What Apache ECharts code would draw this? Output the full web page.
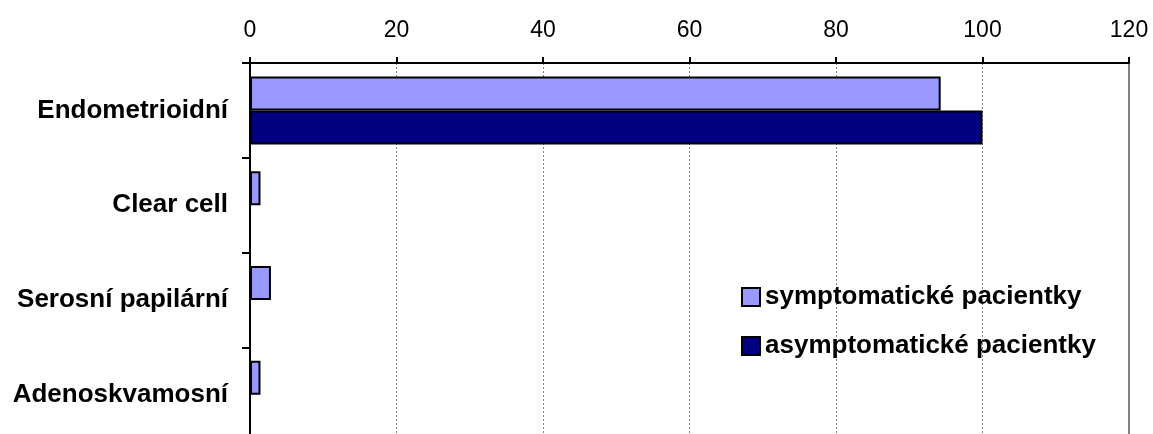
<!DOCTYPE html>
<html>
<head>
<meta charset="utf-8">
<script src="https://cdn.jsdelivr.net/npm/echarts@6/dist/echarts.min.js"></script>
<style>
  html, body { margin: 0; padding: 0; background: #fff; }
  #chart { width: 1153px; height: 434px; }
</style>
</head>
<body>
<div id="chart"></div>
<script>
// Histologic types of endometrial carcinoma (%), by patient group
const categories = ['Endometrioidní', 'Clear cell', 'Serosní papilární', 'Adenoskvamosní'];
const symptomatic = [94.29, 1.43, 2.86, 1.43];
const asymptomatic = [100, 0, 0, 0];
const seriesNames = ['symptomatické pacientky', 'asymptomatické pacientky'];
const xTicks = { min: 0, max: 120, interval: 20 };

const FONT = 'Liberation Sans, Arial, sans-serif';
const chart = echarts.init(document.getElementById('chart'), null, { renderer: 'canvas' });

chart.setOption({
  animation: false,
  backgroundColor: '#fff',
  // plot area runs slightly past the bottom edge of the canvas
  grid: { left: 250, right: 24, top: 63, height: 379, containLabel: false, outerBoundsMode: 'none' },
  legend: {
    orient: 'vertical',
    left: 741,
    top: 284,
    padding: 0,
    itemWidth: 18,
    itemHeight: 18,
    itemGap: 23,
    icon: 'rect',
    textStyle: { fontFamily: FONT, fontSize: 26, fontWeight: 'bold', color: '#000' },
    data: seriesNames
  },
  xAxis: {
    type: 'value',
    position: 'top',
    min: xTicks.min,
    max: xTicks.max,
    interval: xTicks.interval,
    axisLine: { show: true, lineStyle: { color: '#000', width: 2 } },
    axisTick: { show: true, length: 6, lineStyle: { color: '#000', width: 2 } },
    axisLabel: { fontFamily: FONT, fontSize: 23, color: '#000', margin: 21 },
    splitLine: { show: true, lineStyle: { color: '#808080', width: 1, type: [2, 2] } }
  },
  yAxis: [{
    type: 'category',
    data: categories,
    inverse: true,
    axisLine: { show: true, lineStyle: { color: '#000', width: 2 } },
    axisTick: { show: true, length: 8, lineStyle: { color: '#000', width: 2 } },
    axisLabel: { fontFamily: FONT, fontSize: 26, fontWeight: 'bold', color: '#000', margin: 22 },
    splitLine: { show: false }
  }, {
    type: 'category',
    data: categories,
    inverse: true,
    position: 'right',
    axisLine: { show: true, lineStyle: { color: '#808080', width: 2 } },
    axisTick: { show: false },
    axisLabel: { show: false },
    splitLine: { show: false }
  }],
  series: [{
    name: seriesNames[0],
    type: 'bar',
    data: symptomatic,
    barWidth: 34,
    barGap: '0%',
    itemStyle: { color: '#9999FF', borderColor: '#000', borderWidth: 2 }
  }, {
    name: seriesNames[1],
    type: 'bar',
    data: asymptomatic,
    barWidth: 34,
    barGap: '0%',
    itemStyle: { color: '#000080', borderColor: '#000', borderWidth: 2 }
  }]
});
</script>
</body>
</html>
